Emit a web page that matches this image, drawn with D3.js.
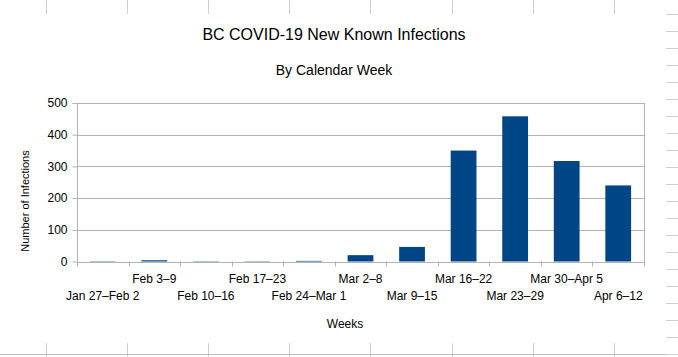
<!DOCTYPE html>
<html><head><meta charset="utf-8">
<script src="https://cdn.jsdelivr.net/npm/d3@7"></script>
<style>body{margin:0;background:#fff}svg{display:block}text{font-family:"Liberation Sans",Arial,sans-serif;fill:#000}</style>
</head><body><svg id="c" width="678" height="357"></svg>
<script>
const categories = ["Jan 27–Feb 2","Feb 3–9","Feb 10–16","Feb 17–23","Feb 24–Mar 1","Mar 2–8","Mar 9–15","Mar 16–22","Mar 23–29","Mar 30–Apr 5","Apr 6–12"];
const values = [1, 4, 1, 1, 2, 20, 46, 350, 458, 317, 240];
const yTicks = [0, 100, 200, 300, 400, 500];
const title = "BC COVID-19 New Known Infections";
const subtitle = "By Calendar Week";
const yTitle = "Number of Infections";
const xTitle = "Weeks";

const svg = d3.select("#c");
const m = {left: 77, right: 644, top: 103, bottom: 261.5};

// spreadsheet background guides
const bg = svg.append("g").attr("stroke", "#cfcfcf").attr("stroke-width", 1);
const colX = d3.range(8).map(i => 45.5 + i * 81.2);
bg.selectAll("line.top").data(colX).join("line")
  .attr("x1", d => Math.round(d) + 0.5).attr("x2", d => Math.round(d) + 0.5).attr("y1", 0).attr("y2", 14);
bg.selectAll("line.bot").data(colX).join("line")
  .attr("x1", d => Math.round(d) + 0.5).attr("x2", d => Math.round(d) + 0.5).attr("y1", 343).attr("y2", 357);
bg.append("line").attr("x1", 0).attr("x2", 678).attr("y1", 354.5).attr("y2", 354.5).attr("stroke", "#bdbdbd");
const rowY = d3.range(21).map(i => 14 + i * 17);
bg.selectAll("line.row").data(rowY).join("line")
  .attr("x1", 666).attr("x2", 678).attr("y1", d => Math.round(d) + 0.5).attr("y2", d => Math.round(d) + 0.5);

const x = d3.scaleBand().domain(categories).range([m.left, m.right]).paddingInner(0.5).paddingOuter(0.25);
const y = d3.scaleLinear().domain([0, 500]).range([m.bottom, m.top]);

// gridlines
svg.append("g").selectAll("line").data(yTicks).join("line")
  .attr("x1", m.left).attr("x2", m.right)
  .attr("y1", d => Math.round(y(d)) + 0.5).attr("y2", d => Math.round(y(d)) + 0.5)
  .attr("stroke", "#b3b3b3");
svg.append("line").attr("x1", m.right + 0.5).attr("x2", m.right + 0.5).attr("y1", m.top).attr("y2", m.bottom + 1).attr("stroke", "#b3b3b3");

// bars
svg.append("g").selectAll("rect").data(values).join("rect")
  .attr("x", (d, i) => x(categories[i]))
  .attr("width", x.bandwidth())
  .attr("y", d => y(d))
  .attr("height", d => y(0) - y(d))
  .attr("fill", "#004586");

// y axis
const ya = svg.append("g").attr("transform", `translate(${m.left + 0.5},0)`)
  .call(d3.axisLeft(y).tickValues(yTicks).tickSize(5).tickPadding(5).tickFormat(d3.format("d")));
ya.select(".domain").attr("stroke", "#b3b3b3").attr("d", `M0,${m.top}V${m.bottom + 5}`);
ya.selectAll(".tick line").attr("stroke", "#b3b3b3");
ya.selectAll(".tick text").attr("font-size", 12).attr("fill", "#000").attr("font-family", '"Liberation Sans",Arial,sans-serif');

// x axis: boundary ticks
const step = x.step();
const bounds = d3.range(categories.length + 1).map(i => m.left + i * step);
svg.append("line").attr("x1", m.left).attr("x2", m.right + 1).attr("y1", Math.round(m.bottom) + 0.5).attr("y2", Math.round(m.bottom) + 0.5).attr("stroke", "#b3b3b3");
svg.append("g").selectAll("line").data(bounds).join("line")
  .attr("x1", d => Math.round(d) + 0.5).attr("x2", d => Math.round(d) + 0.5)
  .attr("y1", m.bottom).attr("y2", m.bottom + 5).attr("stroke", "#b3b3b3");
svg.append("g").selectAll("text").data(categories).join("text")
  .attr("x", d => x(d) + x.bandwidth() / 2)
  .attr("y", (d, i) => i % 2 === 1 ? 282.5 : 299.5)
  .attr("text-anchor", "middle").attr("font-size", 12).text(d => d);

// titles
svg.append("text").attr("x", 334).attr("y", 40).attr("text-anchor", "middle").attr("font-size", 16).text(title);
svg.append("text").attr("x", 334).attr("y", 74.5).attr("text-anchor", "middle").attr("font-size", 14).text(subtitle);
svg.append("text").attr("x", 345).attr("y", 327.5).attr("text-anchor", "middle").attr("font-size", 12).text(xTitle);
svg.append("text").attr("transform", "translate(28.5,201) rotate(-90)").attr("text-anchor", "middle").attr("font-size", 11).text(yTitle);
</script></body></html>
